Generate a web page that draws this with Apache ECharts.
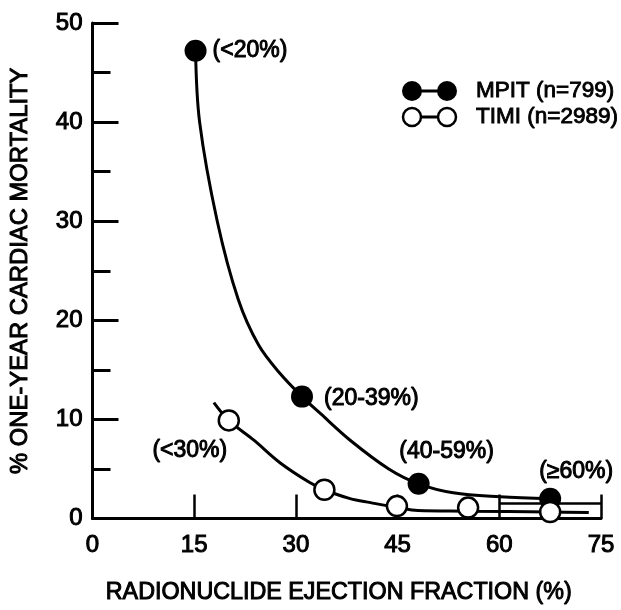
<!DOCTYPE html>
<html>
<head>
<meta charset="utf-8">
<script src="https://cdn.jsdelivr.net/npm/echarts@6/dist/echarts.min.js"></script>
<style>
html,body{margin:0;padding:0;background:#fff;}
#chart{width:621px;height:610px;}
</style>
</head>
<body>
<div id="chart"></div>
<script>
// ---- data ----
var xTicks = [0, 15, 30, 45, 60, 75];
var yTicks = [0, 10, 20, 30, 40, 50];

// MPIT data points (ejection fraction, % mortality)
var mpitX = [15.2, 30.9, 48.1, 67.5];
var mpitY = [47.2, 12.3, 3.5, 2.0];
var mpitLabels = ['(<20%)', '(20-39%)', '(40-59%)', '(\u226560%)'];

// TIMI data points
var timiX = [20.1, 34.2, 44.9, 55.4, 67.5];
var timiY = [9.9, 2.9, 1.25, 1.1, 0.65];
var timiLabels = ['(<30%)', '', '', '', ''];

// fitted curves
var mpitCurveX = [15.2, 15.8, 18.4, 21.5, 24.5, 27.7, 30.9, 33.6, 38.0, 43.7, 48.1, 53.2, 60.1, 67.5];
var mpitCurveY = [47.2, 40.0, 30.0, 22.1, 17.5, 14.6, 12.3, 10.6, 7.9, 5.0, 3.5, 2.6, 2.2, 2.0];
var timiCurveX = [17.9, 20.1, 23.8, 27.7, 32.1, 34.2, 38.0, 41.0, 45.0, 48.0, 55.0, 67.5, 73.2];
var timiCurveY = [11.7, 9.9, 7.9, 5.6, 3.6, 2.9, 2.0, 1.6, 1.1, 0.8, 0.74, 0.66, 0.6];

// ">= 60%" bracket
var bracketX = [60, 75];
var bracketY = 1.5;

var seriesNames = ['MPIT (n=799)', 'TIMI (n=2989)'];

function zip(a, b) { return a.map(function (v, i) { return [v, b[i]]; }); }

var FONT = 'Liberation Sans, Arial, Helvetica, sans-serif';
var txt = { fontFamily: FONT, color: '#000', textBorderColor: '#000', textBorderWidth: 1 };
function T(extra) { return Object.assign({}, txt, extra); }

var mpitLabelCfg = [
  { position: 'right', distance: 6, offset: [0, 0] },
  { position: 'right', distance: 11, offset: [0, 2] },
  { position: 'inside', offset: [28, -32] },
  { position: 'inside', offset: [26, -27] }
];
var timiLabelCfg = [
  { position: 'inside', offset: [-39, 30] }
];

var chart = echarts.init(document.getElementById('chart'), null, { renderer: 'canvas' });

var option = {
  backgroundColor: '#fff',
  animation: false,
  grid: { left: 92, right: 20, top: 23, bottom: 91 },
  xAxis: {
    type: 'value', min: xTicks[0], max: xTicks[xTicks.length - 1], interval: 15,
    name: '{a|RADIONUCLIDE EJECTION FRACTION (%)}{s|}',
    nameLocation: 'middle', nameGap: 63,
    nameTextStyle: T({
      fontSize: 23.3,
      rich: {
        a: T({ fontSize: 23.3 }),
        s: { width: 16 }
      }
    }),
    axisLine: { show: true, onZero: false, lineStyle: { color: '#000', width: 3 } },
    axisTick: { show: true, inside: true, length: 24, lineStyle: { color: '#000', width: 2.5 } },
    axisLabel: T({ fontSize: 24, margin: 15 }),
    splitLine: { show: false }
  },
  yAxis: {
    type: 'value', min: yTicks[0], max: yTicks[yTicks.length - 1], interval: 10,
    name: '% ONE-YEAR CARDIAC MORTALITY',
    nameLocation: 'middle', nameGap: 60, nameRotate: 90,
    nameTextStyle: T({ fontSize: 23.8 }),
    axisLine: { show: true, onZero: false, lineStyle: { color: '#000', width: 3 } },
    axisTick: { show: true, inside: true, length: 26, lineStyle: { color: '#000', width: 3 } },
    minorTick: { show: true, splitNumber: 2, length: 18, lineStyle: { color: '#000', width: 3 } },
    axisLabel: T({ fontSize: 24, margin: 10 }),
    splitLine: { show: false }
  },
  series: [
    {
      type: 'line', name: 'mpitCurve', data: zip(mpitCurveX, mpitCurveY),
      smooth: 0.35, showSymbol: false, silent: true, z: 2,
      lineStyle: { color: '#000', width: 3 }
    },
    {
      type: 'line', name: 'timiCurve', data: zip(timiCurveX, timiCurveY),
      smooth: 0.35, showSymbol: false, silent: true, z: 2,
      lineStyle: { color: '#000', width: 3 },
      markLine: {
        silent: true, symbol: 'none', label: { show: false },
        lineStyle: { color: '#000', width: 2.5, type: 'solid' },
        data: [[{ coord: [bracketX[0], bracketY] }, { coord: [bracketX[1], bracketY] }]]
      }
    },
    {
      type: 'scatter', name: seriesNames[0], z: 5,
      symbol: 'circle', symbolSize: 22,
      itemStyle: { color: '#000', borderColor: '#000', borderWidth: 0, opacity: 1 },
      data: mpitX.map(function (x, i) {
        var c = mpitLabelCfg[i];
        return { value: [x, mpitY[i]], label: Object.assign({ show: true, formatter: mpitLabels[i] }, T({ fontSize: 23 }), c) };
      })
    },
    {
      type: 'scatter', name: seriesNames[1], z: 6,
      symbol: 'circle', symbolSize: 20,
      itemStyle: { color: '#fff', borderColor: '#000', borderWidth: 2.5, opacity: 1 },
      data: timiX.map(function (x, i) {
        var c = timiLabelCfg[i];
        var lab = c ? Object.assign({ show: true, formatter: timiLabels[i] }, T({ fontSize: 23 }), c) : { show: false };
        return { value: [x, timiY[i]], label: lab };
      })
    }
  ],
  graphic: [
    // legend row 1 (MPIT, filled)
    { type: 'line', shape: { x1: 412, y1: 91, x2: 447, y2: 91 }, style: { stroke: '#000', lineWidth: 3 } },
    { type: 'circle', shape: { cx: 412, cy: 91, r: 10 }, style: { fill: '#000' } },
    { type: 'circle', shape: { cx: 447, cy: 91, r: 10 }, style: { fill: '#000' } },
    { type: 'text', x: 476, y: 91, style: { text: seriesNames[0], font: '22.5px ' + FONT, fill: '#000', stroke: '#000', lineWidth: 0.9, verticalAlign: 'middle', align: 'left' } },
    // legend row 2 (TIMI, open)
    { type: 'line', shape: { x1: 412, y1: 117, x2: 447, y2: 117 }, style: { stroke: '#000', lineWidth: 3 } },
    { type: 'circle', shape: { cx: 412, cy: 117, r: 9 }, style: { fill: '#fff', stroke: '#000', lineWidth: 2.5 } },
    { type: 'circle', shape: { cx: 447, cy: 117, r: 9 }, style: { fill: '#fff', stroke: '#000', lineWidth: 2.5 } },
    { type: 'text', x: 476, y: 117, style: { text: seriesNames[1], font: '22.5px ' + FONT, fill: '#000', stroke: '#000', lineWidth: 0.9, verticalAlign: 'middle', align: 'left' } }
  ]
};
chart.setOption(option);
</script>
</body>
</html>
